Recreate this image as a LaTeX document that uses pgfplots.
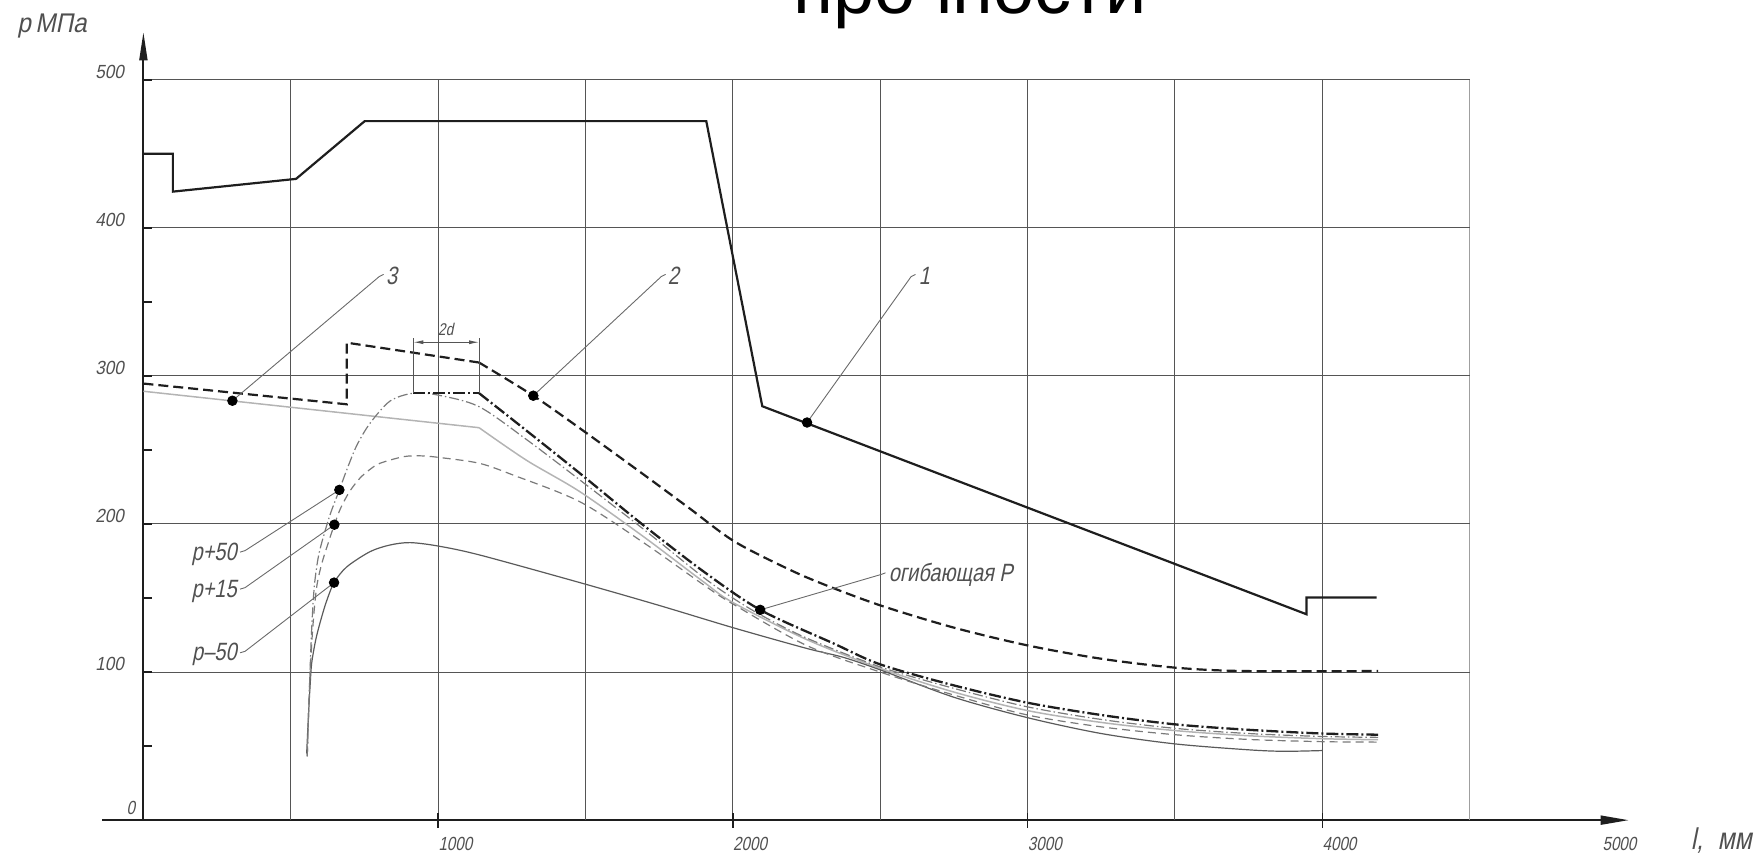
\documentclass[border=0pt]{standalone}
\usepackage{fontspec}
\usepackage{pgfplots}
\pgfplotsset{compat=1.18}
\usetikzlibrary{arrows.meta}
\newfontfamily\gost[FakeSlant=0.2,FakeStretch=0.8]{Liberation Sans}
\newfontfamily\gostw[FakeSlant=0.2,FakeStretch=0.9]{Liberation Sans}
\newfontfamily\titlefont{Liberation Sans}
\definecolor{gridc}{HTML}{555555}
\definecolor{ink}{HTML}{1E1E1E}
\definecolor{midgray}{HTML}{7A7A7A}
\definecolor{darkgray}{HTML}{5A5A5A}
\definecolor{lgray}{HTML}{B4B4B4}
\definecolor{txt}{HTML}{505050}
\definecolor{leadc}{HTML}{6A6A6A}
\tikzset{lab/.style={font={\gost\fontsize{12.5}{14}\selectfont}, text=txt, inner sep=0pt}}
\begin{document}
\begin{tikzpicture}
\begin{axis}[
  x=0.14735pt, y=0.7405pt,
  xmin=-140, xmax=5040, ymin=0, ymax=532,
  axis lines=middle,
  axis line style={line width=0.9pt, ink},
  every inner x axis line/.append style={-{Triangle[length=14pt,width=4.5pt]}},
  every inner y axis line/.append style={-{Triangle[length=14pt,width=4pt]}},
  enlargelimits=false,
  clip=false,
  xtick={1000,2000,3000,4000},
  xticklabels={1000,2000,3000,4000},
  ytick={100,200,300,400,500},
  yticklabels={100,200,300,400,500},
  major tick length=0pt,
  minor tick length=0pt,
  xticklabel style={font={\gost\fontsize{9.5}{11}\selectfont}, text=txt, anchor=north west, inner sep=0pt, yshift=-8.5pt},
  yticklabel style={font={\gostw\fontsize{9.5}{11}\selectfont}, text=txt, anchor=base east, inner sep=0pt, xshift=-9.5pt, yshift=0.8pt},
]
% grid
\pgfplotsinvokeforeach{500,1000,...,4000}{
  \addplot[gridc, line width=0.5pt] coordinates {(#1,0) (#1,500)};
}
\addplot[gray!75, line width=0.8pt] coordinates {(4500,0) (4500,500)};
\pgfplotsinvokeforeach{100,200,...,500}{
  \addplot[gridc, line width=0.5pt] coordinates {(0,#1) (4500,#1)};
}
% ticks
\pgfplotsinvokeforeach{50,100,...,500}{
  \addplot[ink, line width=0.9pt] coordinates {(0,#1) (30,#1)};
}
\pgfplotsinvokeforeach{1000,2000,3000,4000}{
  \addplot[ink, line width=0.7pt] coordinates {(#1,-5) (#1,5)};
}

% curve 3 (light gray)
\addplot[lgray, line width=0.75pt] coordinates {(0,289.6) (1139,265)};
\addplot[lgray, line width=0.75pt, smooth, tension=0.5] coordinates {(1139,265) (1300,243) (1481,221.8) (1700,191) (1900,161) (2000,147) (2250,122) (2500,102.5) (2750,86.5) (3000,74) (3250,66) (3500,60.5) (3750,57) (4000,55) (4190,54.3)};

% p-50
\addplot[darkgray, line width=0.6pt, smooth, tension=0.5] coordinates {(554,45) (558,62) (562,78) (566,92) (571,106) (584,121) (599,133) (620,147) (647,160.4) (690,171) (769,181.3) (837,185.8) (905,187.4) (1000,185.1) (1142,179) (1481,160.4) (1750,145) (2007,129.6) (2250,116) (2374,110) (2500,101.5) (2750,83) (3000,69.2) (3250,58.5) (3500,51.5) (3750,47.5) (3870,46.5) (4000,47)};

% p+15
\addplot[midgray, line width=0.6pt, dash pattern=on 4pt off 2.5pt, smooth, tension=0.5] coordinates {(556,43) (561,75) (566,100) (573,125) (581,145) (590,160) (605,173) (622,184) (648,199.5) (670,211) (700,222) (735,231) (770,237) (803,241) (882,245.4) (939,246) (1000,245) (1139,241) (1255,233) (1481,215) (1700,187) (1900,159) (2000,146) (2250,118) (2500,100) (2750,84.5) (3000,71) (3250,63) (3500,57.7) (3750,54.5) (4000,53) (4190,52.7)};

% p+50
\addplot[midgray, line width=0.6pt, dash pattern=on 5pt off 1.5pt on 0.7pt off 1.5pt, smooth, tension=0.5] coordinates {(556,43) (561,75) (566,104) (572,133) (580,158) (592,176) (606,188) (633,206) (665,223) (690,236.5) (724,253) (769,268) (837,283) (916,288.3) (1000,287) (1139,279.2) (1300,257) (1481,229.7) (1700,196) (1900,164) (2000,150) (2100,138) (2250,123) (2500,103.5) (2750,89) (3000,76.5) (3250,68) (3500,62) (3750,58.5) (4000,56.5) (4190,55.9)};

% envelope P
\addplot[ink, line width=1.15pt, dash pattern=on 6pt off 1.5pt on 1pt off 1.5pt] coordinates {(916,288.3) (1139,288.3)};
\addplot[ink, line width=1.15pt, dash pattern=on 6pt off 1.5pt on 1pt off 1.5pt, smooth, tension=0.5] coordinates {(1139,288.3) (1300,263) (1481,234.2) (1685,201) (1900,168) (2093,142) (2341,119.4) (2500,105.2) (2750,91) (3000,79.3) (3250,71) (3500,64.7) (3750,61) (4000,58.5) (4190,57.7)};

% curve 2 (bold dashed)
\addplot[ink, line width=1.1pt, dash pattern=on 5pt off 2.5pt] coordinates {(0,294.8) (690,280.8) (690,322.4) (1139,309)};
\addplot[ink, line width=1.1pt, dash pattern=on 5pt off 2.5pt, smooth, tension=0.5] coordinates {(1139,309) (1323,286.6) (1481,264.6) (1700,233) (1850,211) (2007,188) (2205,168) (2350,156) (2513,144.2) (2750,130) (3000,118) (3250,109) (3500,103) (3733,100.7) (4190,100.7)};

% curve 1 (solid)
\addplot[ink, line width=1.1pt] coordinates {(0,450) (100,450) (100,424.4) (518,433) (751,472) (1910,472) (2100,279.5) (3947,139) (3947,150.3) (4185,150.3)};

% 2d dimension
\addplot[gridc, line width=0.5pt] coordinates {(916,288.3) (916,325.4)};
\addplot[gridc, line width=0.5pt] coordinates {(1139,288.3) (1139,325.4)};
\addplot[gridc, line width=0.45pt, {Latex[length=5pt,width=2pt]}-{Latex[length=5pt,width=2pt]}] coordinates {(916,322.7) (1139,322.7)};
\node[lab, anchor=base, font={\gost\fontsize{8.5}{10}\selectfont}] at (axis cs:1026,327.5) {2d};

% leaders
\addplot[leadc, line width=0.45pt] coordinates {(302,283.2) (800,367) (815,368.5)};
\addplot[leadc, line width=0.45pt] coordinates {(1323,286.6) (1757,367) (1772,368.5)};
\addplot[leadc, line width=0.45pt] coordinates {(2252,268.5) (2605,367) (2620,368.5)};
\addplot[leadc, line width=0.45pt] coordinates {(2093,142) (2505,166) (2518,167)};
\addplot[leadc, line width=0.45pt] coordinates {(665,223) (345,182) (328,181)};
\addplot[leadc, line width=0.45pt] coordinates {(648,199.5) (345,157) (328,156)};
\addplot[leadc, line width=0.45pt] coordinates {(647,160.4) (345,114) (328,113)};

% dots
\addplot[only marks, mark=*, mark size=2.4pt, black] coordinates {(302,283.2) (1323,286.6) (2252,268.5) (2093,142) (665,223) (648,199.5) (647,160.4)};

% labels
\node[lab, anchor=base west] at (axis cs:822,362) {3};
\node[lab, anchor=base west] at (axis cs:1778,362) {2};
\node[lab, anchor=base west] at (axis cs:2630,362) {1};
\node[lab, anchor=base west] at (axis cs:2528,161) {огибающая P};
\node[lab, anchor=base east] at (axis cs:318,175) {p+50};
\node[lab, anchor=base east] at (axis cs:318,150.5) {p+15};
\node[lab, anchor=base east] at (axis cs:318,108) {p–50};

% axis texts
\node[lab, anchor=base west, font={\gostw\fontsize{13.5}{15}\selectfont}] at (axis cs:-429,532) {p\,МПа};
\node[lab, anchor=base west, font={\gost\fontsize{15}{17}\selectfont}] at (axis cs:5250,-20) {l,};
\node[lab, anchor=base west, font={\gost\fontsize{15.5}{17}\selectfont}] at (axis cs:5340,-20) {мм};
\node[lab, anchor=base east, font={\gost\fontsize{9.5}{11}\selectfont}] at (axis cs:-27,4) {0};
\node[lab, anchor=north west, font={\gost\fontsize{9.5}{11}\selectfont}] at ([yshift=-8.5pt]axis cs:4950,0) {5000};

% title (clipped by page edge, as in the reference)
\node[anchor=base, inner sep=0pt, font={\titlefont\fontsize{37}{40}\selectfont}] at (axis cs:2805,544.5) {прочности};

\coordinate (BL) at (axis cs:-486.6,-24.17);
\coordinate (TR) at (axis cs:5475.4,553.8);
\end{axis}
\pgfresetboundingbox
\path[use as bounding box] (BL) rectangle (TR);
\end{tikzpicture}
\end{document}
